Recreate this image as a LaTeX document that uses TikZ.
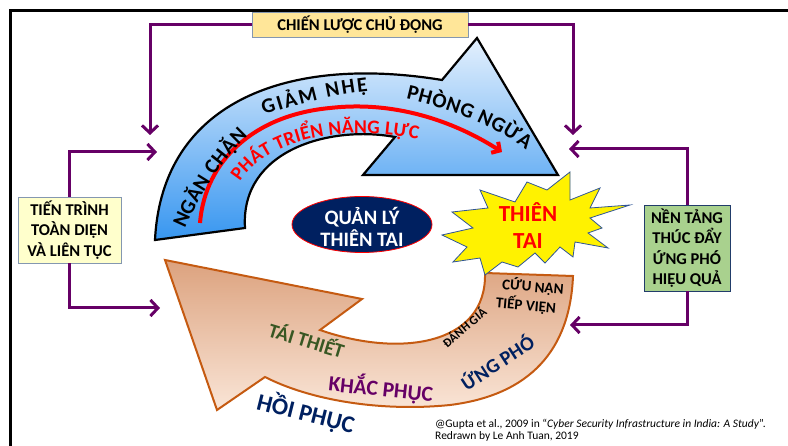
\documentclass[tikz,border=0pt]{standalone}
\usepackage{fontspec}
\setmainfont{Carlito}
\usetikzlibrary{arrows.meta,shapes.geometric,decorations.text}

\definecolor{tim}{RGB}{102,0,102}
\definecolor{xanhdam}{RGB}{0,32,96}
\definecolor{xanhla}{RGB}{56,87,35}
\definecolor{camvien}{RGB}{197,90,17}
\definecolor{camnhat}{RGB}{250,230,216}
\definecolor{cam}{RGB}{220,162,126}
\definecolor{xanhnhat}{RGB}{228,240,253}
\definecolor{xanh}{RGB}{55,150,240}
\definecolor{vienhop}{RGB}{132,151,176}
\definecolor{vang}{RGB}{255,230,153}
\definecolor{kem}{RGB}{255,255,204}
\definecolor{la}{RGB}{169,209,142}
\definecolor{viensao}{RGB}{47,85,151}
\definecolor{do}{RGB}{255,0,0}

\newcommand{\cochu}[1]{\fontsize{#1}{#1}\selectfont\bfseries}

\begin{document}
\begin{tikzpicture}[x=1pt, y=-1pt,
    flow/.style={draw=tim, line width=3pt, -{Straight Barb[length=7.5pt,width=16pt]}},
    hop/.style={draw=vienhop, line width=0.8pt, align=center, inner sep=0pt,
        font=\fontsize{16.5}{20.5}\selectfont\bfseries},
    nhan/.style={font=\cochu{#1}, inner sep=0pt}]
    \useasboundingbox (0,0) rectangle (788,446);

    \draw [line width=3pt](10.5,446)--(10.5,10.5)--(788,10.5);

    \node [hop, fill=vang, minimum width=216pt, minimum height=25pt](cl) at (360,24.5) {CHIẾN LƯỢC CHỦ ĐỘNG};
    \node [hop, fill=kem, minimum width=103pt, minimum height=66pt](tt) at (69.5,230) {TIẾN TRÌNH\\TOÀN DIỆN\\VÀ LIÊN TỤC};
    \node [hop, fill=la, draw=viensao!70!black, minimum width=86pt, minimum height=86pt](nt) at (687,248) {NỀN TẢNG\\THÚC ĐẨY\\ỨNG PHÓ\\HIỆU QUẢ};

    \coordinate (a1) at (150,135);
    \coordinate (a2) at (157,152);
    \coordinate (a3) at (160,308);
    \coordinate (a4) at (573,135);
    \coordinate (a5) at (569,149);
    \coordinate (a6) at (570,325);

    \draw [flow](cl.west) -| (a1);
    \draw [flow](tt.north) |- (a2);
    \draw [flow](tt.south) |- (a3);
    \draw [flow](cl.east) -| (a4);
    \draw [flow](nt.north) |- (a5);
    \draw [flow](nt.south) |- (a6);

    % mui ten xanh
    \draw [line width=2.2pt, top color=xanhnhat, middle color=xanh, bottom color=xanh]
        (155,240) .. controls (162,100) and (290,55) .. (442,80) -- (477,38) -- (558,175)
        -- (363,175) -- (395,137) .. controls (330,125) and (240,150) .. (245,228) -- cycle;

    \draw [do, line width=4pt, -{Straight Barb[length=6pt,width=13pt]}]
        (200,223) .. controls (205,160) and (255,115) .. (330,108)
        .. controls (400,100) and (460,125) .. (502,152);

    \path [decorate, decoration={text along path, text align=fit to path,
        text={|\cochu{21}|NGĂN CHẶN}}]
        (185,229) .. controls (200,195) and (220,162) .. (248,136);
    \path [decorate, decoration={text along path, text align=fit to path,
        text={|\cochu{21}|GIẢM NHẸ}}]
        (264,115) .. controls (295,105) and (330,95) .. (368,91);
    \path [decorate, decoration={text along path, text align=fit to path,
        text={|\cochu{21}|PHÒNG NGỪA}}]
        (406,99) .. controls (445,108) and (490,122) .. (526,150);
    \path [decorate, decoration={text along path, text align=fit to path, text color=do,
        text={|\cochu{19.5}|PHÁT TRIỂN NĂNG LỰC}}]
        (240,182) .. controls (262,145) and (330,122) .. (418,139);

    % mui ten cam
    \draw [camvien, line width=2pt, top color=cam, middle color=cam, bottom color=camnhat]
        (485,273) -- (573,276) .. controls (570,350) and (530,395) .. (450,405)
        .. controls (380,412) and (310,400) .. (265,377) -- (217,410) -- (165,260)
        -- (362,299) -- (320,330) .. controls (400,358) and (487,345) .. (485,273) -- cycle;

    % sao
    \draw [viensao, fill=yellow, line width=0.8pt](480,190)--(515,202)--(527,182)--(547,190)
        --(570,172)--(570,200)--(600,188)--(590,208)--(630,205)--(590,218)--(602,228)
        --(588,233)--(608,248)--(575,242)--(573,257)--(560,247)--(545,263)--(535,253)
        --(518,267)--(502,262)--(485,275)--(480,258)--(453,262)--(467,247)--(442,235)
        --(473,228)--(452,212)--(488,208)--cycle;
    \node [nhan=22, text=do, align=center, font=\fontsize{23}{27}\selectfont\bfseries](tai) at (528,226) {THIÊN\\TAI};

    \node [ellipse, draw=do, line width=0.8pt, fill=xanhdam, minimum width=140pt, minimum height=56pt](ql) at (362,224.5) {};
    \node [nhan=18, text=white, align=center, font=\fontsize{20.5}{22.5}\selectfont\bfseries](qlt) at (362,227) {QUẢN LÝ\\THIÊN TAI};

    \node [nhan=15, rotate=-5](cuu) at (533,287) {CỨU NẠN};
    \node [nhan=15, rotate=-5](tiep) at (526,305) {TIẾP VIỆN};
    \node [nhan=12.5, rotate=40](dg) at (464,327) {ĐÁNH GIÁ};
    \node [nhan=20, rotate=33, text=xanhdam](up) at (497,362) {ỨNG PHÓ};
    \node [nhan=20, rotate=-17, text=xanhla](tth) at (307,339) {TÁI THIẾT};
    \node [nhan=21.5, rotate=-6, text=tim](kp) at (381,388) {KHẮC PHỤC};
    \node [nhan=24, rotate=-14, text=xanhdam](hp) at (306,413) {HỒI PHỤC};

    \node [anchor=base west, inner sep=0pt, font=\fontsize{11.5}{13}\selectfont](ng1) at (435,428)
        {@Gupta et al., 2009 in “\textit{Cyber Security Infrastructure in India: A Study}”.};
    \node [anchor=base west, inner sep=0pt, font=\fontsize{11.5}{13}\selectfont](ng2) at (435,439.5)
        {Redrawn by Le Anh Tuan, 2019};
\end{tikzpicture}
\end{document}
